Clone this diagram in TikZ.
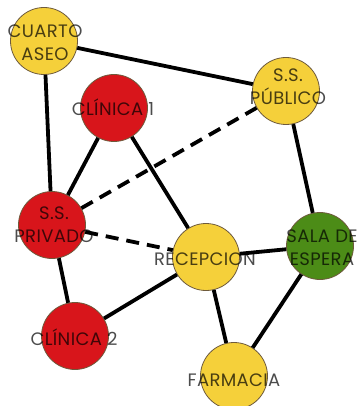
\documentclass[tikz,border=0pt]{standalone}
\usepackage{fontspec}
\setmainfont{Poppins}[LetterSpace=2]
\definecolor{roomyellow}{HTML}{F5D03A}
\definecolor{roomred}{HTML}{D8151B}
\definecolor{roomgreen}{HTML}{4C8C17}
\definecolor{ringline}{HTML}{6E5A3C}
\begin{document}
\begin{tikzpicture}[x=1pt,y=-1pt,
  room/.style={circle, draw=ringline, line width=0.8pt, minimum size=67pt, inner sep=0pt},
  yroom/.style={room, fill=roomyellow},
  rroom/.style={room, fill=roomred},
  groom/.style={room, fill=roomgreen},
  roomname/.style={align=center, inner sep=0pt, text=black, text opacity=0.7,
    font=\fontsize{18}{23}\selectfont},
  link/.style={line width=3.8pt, black},
  weaklink/.style={link, dash pattern=on 13pt off 8pt}]
\useasboundingbox (0,0) rectangle (361,406);

% rooms
\node[yroom] (aseo) at (44,41) {};
\node[rroom] (clin1) at (114,108) {};
\node[yroom] (publico) at (286,91) {};
\node[rroom] (privado) at (52,225) {};
\node[yroom] (recep) at (206,257) {};
\node[groom] (sala) at (320,246) {};
\node[rroom] (clin2) at (75,336) {};
\node[yroom] (farm) at (234,376) {};

% connections
\draw[link] (aseo) -- (publico);
\draw[link] (aseo) -- (privado);
\draw[link] (clin1) -- (privado);
\draw[link] (clin1) -- (recep);
\draw[link] (publico) -- (sala);
\draw[link] (privado) -- (clin2);
\draw[link] (clin2) -- (recep);
\draw[link] (recep) -- (sala);
\draw[link] (recep) -- (farm);
\draw[link] (sala) -- (farm);
\draw[weaklink] (privado) -- (publico);
\draw[weaklink] (privado) -- (recep);

% room names
\node[roomname] (taseo) at (45,43) {CUARTO\\ASEO};
\node[roomname] (tclin1) at (113,107) {CLÍNICA 1};
\node[roomname] (tpublico) at (288,87) {S.S.\\PÚBLICO};
\node[roomname] (tprivado) at (54,225) {S.S.\\PRIVADO};
\node[roomname] (trecep) at (205,259) {RECEPCION};
\node[roomname] (tsala) at (322,248) {SALA DE\\ESPERA};
\node[roomname] (tclin2) at (74,337) {CLÍNICA 2};
\node[roomname] (tfarm) at (234,380) {FARMACIA};
\end{tikzpicture}
\end{document}
